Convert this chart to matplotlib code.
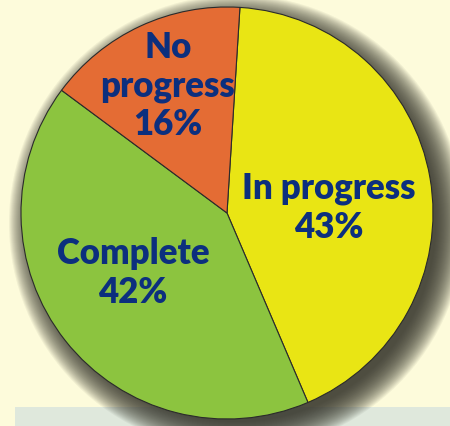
import numpy as np
import matplotlib
matplotlib.use("Agg")
import matplotlib.pyplot as plt
from matplotlib.patches import Circle, Rectangle

# Data
labels = ["In progress", "Complete", "No\nprogress"]
values = [43, 42, 16]
colors = ["#e9e514", "#8cc43f", "#e46c34"]

bg_color = "#fdfbdb"
text_color = "#0c2f7e"

fig = plt.figure(figsize=(4.5, 4.26), dpi=100, facecolor=bg_color)
ax = fig.add_axes([0, 0, 1, 1])
ax.set_facecolor(bg_color)

# pie placement in pixel coordinates (y up)
cx, cy, r = 227, 213, 206

# light box at the bottom
ax.add_patch(Rectangle((15, 0), 450, 19, facecolor="#dfe8dc", edgecolor="none", zorder=0))

# soft drop shadow, pushed to the lower right
for k in range(30):
    ax.add_patch(Circle((cx + 10, cy - 10), r + 22 - k, facecolor="#34332a",
                        edgecolor="none", alpha=0.06, zorder=1))

wedges, texts = ax.pie(values, colors=colors, startangle=86.4, counterclock=False,
                       center=(cx, cy), radius=r,
                       wedgeprops=dict(edgecolor="#2b2b2b", linewidth=0.8))
for w in wedges:
    w.set_zorder(2)

font = dict(family=["Lato", "DejaVu Sans"], fontweight="heavy", fontsize=25,
            color=text_color, ha="center", va="center", zorder=3, linespacing=1.2)

ax.text(329, 426 - 208, "In progress\n43%", **font)
ax.text(133, 426 - 273, "Complete\n42%", **font)
ax.text(168, 426 - 86, "No\nprogress\n16%", **font)

ax.set_xlim(0, 450)
ax.set_ylim(0, 426)
ax.set_aspect("auto")
ax.axis("off")

fig.savefig("out.png", dpi=100, facecolor=bg_color)
